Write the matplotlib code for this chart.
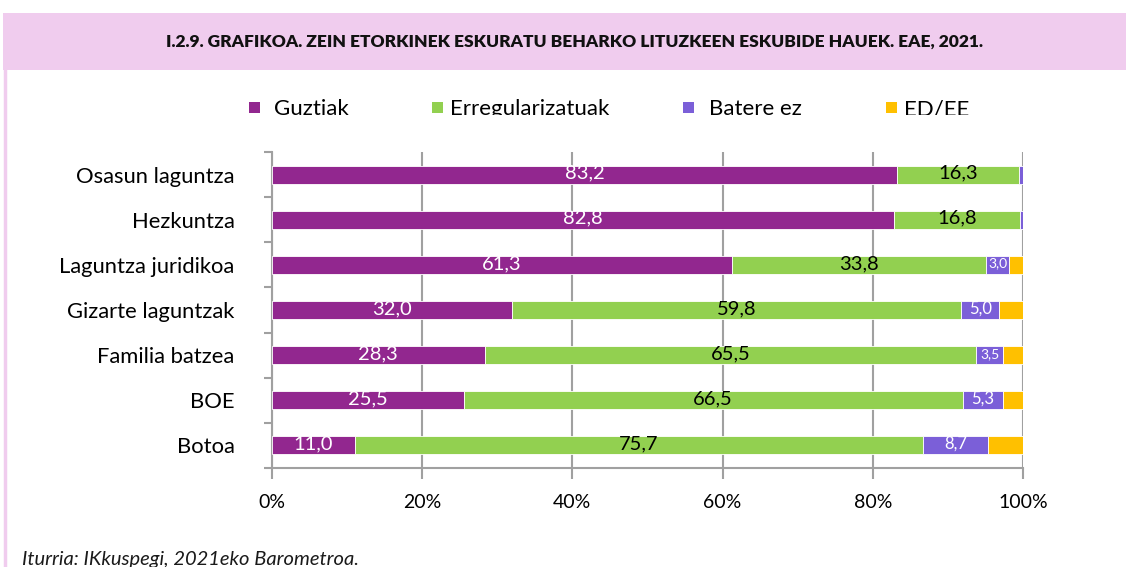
import numpy as np
import matplotlib
matplotlib.use("Agg")
import matplotlib.pyplot as plt
from matplotlib.patches import Rectangle

plt.rcParams['font.family'] = ['Lato', 'DejaVu Sans']

# Data
categories = ["Osasun laguntza", "Hezkuntza", "Laguntza juridikoa", "Gizarte laguntzak",
              "Familia batzea", "BOE", "Botoa"]
guztiak = [83.2, 82.8, 61.3, 32.0, 28.3, 25.5, 11.0]
erregularizatuak = [16.3, 16.8, 33.8, 59.8, 65.5, 66.5, 75.7]
batere_ez = [0.5, 0.4, 3.0, 5.0, 3.5, 5.3, 8.7]
ed_ee = [0.0, 0.0, 1.9, 3.2, 2.7, 2.7, 4.6]
series_names = ["Guztiak", "Erregularizatuak", "Batere ez", "ED/EE"]
colors = ["#92278F", "#92D050", "#7B5FD8", "#FFC000"]

W, H = 1126, 567
fig = plt.figure(figsize=(W / 100, H / 100), dpi=100)


def fx(x):
    return x / W


def fy(y):
    return 1 - y / H


# header band and left border
fig.patches.append(Rectangle((fx(3), fy(70)), 1, (70 - 13) / H, transform=fig.transFigure,
                             facecolor="#F0CCEE", edgecolor="none", zorder=0))
fig.add_artist(plt.Line2D([fx(5), fx(5)], [0, fy(70)], transform=fig.transFigure,
                          color="#F0CCEE", lw=2.5))
fig.text(fx(575), fy(42), "I.2.9. GRAFIKOA. ZEIN ETORKINEK ESKURATU BEHARKO LITUZKEEN ESKUBIDE HAUEK. EAE, 2021.",
         ha="center", va="center", fontsize=12.5, fontweight="heavy", color="#111111")

ax = fig.add_axes([fx(272), fy(468), 751 / W, 316 / H])
y = np.arange(len(categories))
left = np.zeros(len(categories))
all_series = [guztiak, erregularizatuak, batere_ez, ed_ee]
for vals, col in zip(all_series, colors):
    vals = np.array(vals)
    ax.barh(y, vals, left=left, height=0.4, color=col, edgecolor="white", linewidth=0.6, zorder=3)
    left += vals

# data labels
for i in range(len(categories)):
    ax.text(guztiak[i] / 2, i - 0.03, f"{guztiak[i]:.1f}".replace(".", ","),
            ha="center", va="center", color="white", fontsize=14.5, zorder=4)
    ax.text(guztiak[i] + erregularizatuak[i] / 2, i - 0.03,
            f"{erregularizatuak[i]:.1f}".replace(".", ","),
            ha="center", va="center", color="black", fontsize=14.5, zorder=4)
    if batere_ez[i] >= 1:
        fs = 12 if batere_ez[i] >= 4.5 else 10
        ax.text(guztiak[i] + erregularizatuak[i] + batere_ez[i] / 2, i - 0.03,
                f"{batere_ez[i]:.1f}".replace(".", ","),
                ha="center", va="center", color="white", fontsize=fs, zorder=4)

ax.set_xlim(0, 100)
ax.set_ylim(6.5, -0.5)
ax.set_xticks([0, 20, 40, 60, 80, 100])
ax.set_xticklabels(["0%", "20%", "40%", "60%", "80%", "100%"], fontsize=14)
ax.set_yticks(y)
ax.set_yticklabels(categories, fontsize=15.8)
ax.set_yticks(np.arange(-0.5, 7, 1), minor=True)
ax.tick_params(axis="y", which="major", length=0, pad=27)
ax.tick_params(axis="y", which="minor", length=6, width=1.5, color="#A0A0A0", direction="out")
ax.tick_params(axis="x", length=8, width=1.5, color="#A0A0A0", pad=11)
ax.grid(axis="x", color="#A0A0A0", lw=1.5, zorder=0)
for s in ["top", "right"]:
    ax.spines[s].set_visible(False)
for s in ["left", "bottom"]:
    ax.spines[s].set_color("#A0A0A0")
    ax.spines[s].set_linewidth(1.5)

# legend (fixed-width entries)
leg_marker_x = [249, 432, 683, 886]
leg_text_x = [274, 450, 709, 904]
for name, col, mx, tx in zip(series_names, colors, leg_marker_x, leg_text_x):
    fig.patches.append(Rectangle((fx(mx), fy(113)), 11 / W, 11 / H, transform=fig.transFigure,
                                 facecolor=col, edgecolor="none"))
    fig.text(fx(tx), fy(115), name, ha="left", va="baseline", fontsize=16, color="black")
# legend text is cut off below the baseline in the original
fig.patches.append(Rectangle((fx(200), fy(140)), 850 / W, 25 / H, transform=fig.transFigure,
                             facecolor="white", edgecolor="none", zorder=5))

fig.text(fx(22), fy(565), "Iturria: IKkuspegi, 2021eko Barometroa.", ha="left", va="baseline",
         fontsize=14.5, style="italic", color="#1a1a1a")

fig.savefig("out.png", dpi=100)
